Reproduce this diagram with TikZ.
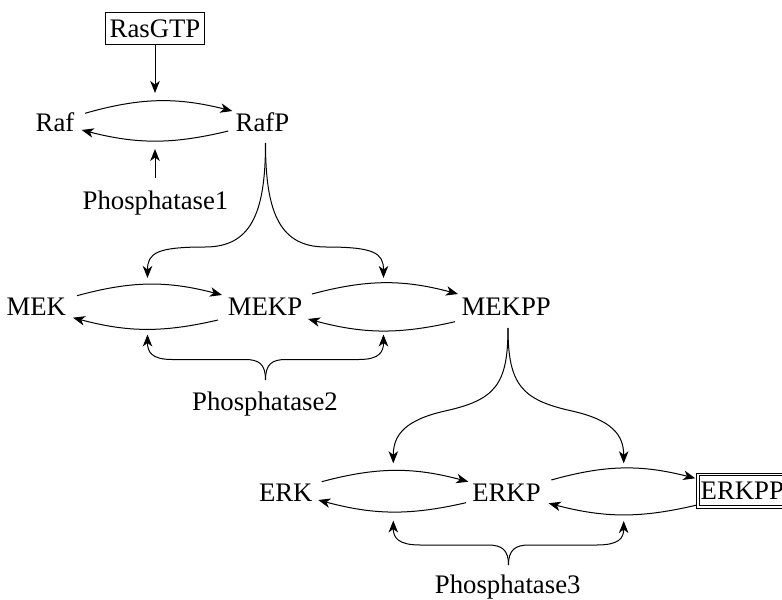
\documentclass[tikz,border=0pt]{standalone}
\usepackage{fontspec}
\setmainfont{Liberation Serif}
\usetikzlibrary{arrows.meta}
\begin{document}
\begin{tikzpicture}[x=0.4pt,y=-0.4pt,
  font=\fontsize{10.7}{13}\selectfont,
  line width=0.4pt,
  >={Stealth[length=4.8pt,width=3.8pt,inset=1.4pt]},
  lbl/.style={inner sep=0pt,text height=7.1pt,text depth=0pt},
  boxed/.style={lbl,draw,minimum width=39.6pt,minimum height=12.8pt},
  dboxed/.style={lbl,draw,double,double distance=0.6pt,minimum width=35.3pt,minimum height=13pt}]
\useasboundingbox (0,0) rectangle (782,600);
% nodes
\node[boxed] (RasGTP) at (155,28.5) {RasGTP};
\node[lbl] (Raf) at (55,122.8) {Raf};
\node[lbl] (RafP) at (262.5,122.8) {RafP};
\node[lbl] (Ph1) at (155.5,200.4) {Phosphatase1};
\node[lbl] (MEK) at (36.3,306.8) {MEK};
\node[lbl] (MEKP) at (265,306.8) {MEKP};
\node[lbl] (MEKPP) at (506.2,306.8) {MEKPP};
\node[lbl] (Ph2) at (265,402) {Phosphatase2};
\node[lbl] (ERK) at (285.8,492.3) {ERK};
\node[lbl] (ERKP) at (506.5,492.3) {ERKP};
\node[dboxed] (ERKPP) at (742.3,490.8) {ERKPP};
\node[lbl] (Ph3) at (507.7,585) {Phosphatase3};
% helper coordinates
\coordinate (tRas) at (155,93);
\coordinate (tPh1) at (155,149);
\coordinate (f1) at ([shift={(3,20.2)}]RafP.center);
\coordinate (f2) at ([shift={(1.8,21.2)}]MEKPP.center);
\coordinate (b2) at ([shift={(0.5,-22)}]Ph2.center);
\coordinate (b3) at ([shift={(0.8,-20)}]Ph3.center);
\coordinate (m1) at (147.5,278);
\coordinate (m2) at (383.5,278);
\coordinate (p2a) at (147.5,334.5);
\coordinate (p2b) at (383.5,334.5);
\coordinate (e1) at (393.3,463.3);
\coordinate (e2) at (623.7,463.3);
\coordinate (p3a) at (393.3,520.5);
\coordinate (p3b) at (623.7,521);
% Raf row
\draw[->] (RasGTP.south) -- (tRas);
\draw[->] ([shift={(-0.5,-22.4)}]Ph1.center) -- (tPh1);
\draw[->] ([shift={(30,-9.5)}]Raf.center) to[bend left=15] ([shift={(-30.2,-11.8)}]RafP.center);
\draw[->] ([shift={(-34.2,8.2)}]RafP.center) to[bend left=14] ([shift={(26.7,7.2)}]Raf.center);
% fork RafP
\draw[->] (f1) .. controls +(0,72) and +(45,0) .. (205,247) .. controls +(-48,0) and +(0,-25) .. (m1);
\draw[->] (f1) .. controls +(0,72) and +(-45,0) .. (326,247) .. controls +(48,0) and +(0,-25) .. (m2);
% MEK row
\draw[->] ([shift={(40.7,-11.1)}]MEK.center) to[bend left=15] ([shift={(-43,-11.8)}]MEKP.center);
\draw[->] ([shift={(-47,13.2)}]MEKP.center) to[bend left=14] ([shift={(36.7,10.9)}]MEK.center);
\draw[->] ([shift={(47,-12.8)}]MEKP.center) to[bend left=15] ([shift={(-48.2,-12.8)}]MEKPP.center);
\draw[->] ([shift={(-51.2,14.9)}]MEKPP.center) to[bend left=14] ([shift={(43,12.2)}]MEKP.center);
% brace Phosphatase2
\draw[->] (b2) .. controls +(0,-16) and +(14,0) .. (245,359.5) -- (172,359.5) .. controls +(-21,0) and +(0,17) .. (p2a);
\draw[->] (b2) .. controls +(0,-16) and +(-14,0) .. (286,359.5) -- (359,359.5) .. controls +(21,0) and +(0,17) .. (p2b);
% fork MEKPP
\draw[->] (f2) .. controls +(0,57) and +(50,-11) .. (445,411) .. controls +(-40,9) and +(0,-28.3) .. (e1);
\draw[->] (f2) .. controls +(0,57) and +(-50,-11) .. (572,411) .. controls +(40,9) and +(0,-28.3) .. (e2);
% ERK row
\draw[->] ([shift={(35.9,-10.6)}]ERK.center) to[bend left=15] ([shift={(-38.2,-10.6)}]ERKP.center);
\draw[->] ([shift={(-40.5,10.4)}]ERKP.center) to[bend left=14] ([shift={(32.5,7.7)}]ERK.center);
\draw[->] ([shift={(44.8,-12.3)}]ERKP.center) to[bend left=15] ([shift={(-47,-12.5)}]ERKPP.center);
\draw[->] ([shift={(-45.3,14.2)}]ERKPP.center) to[bend left=14] ([shift={(42.2,11)}]ERKP.center);
% brace Phosphatase3
\draw[->] (b3) .. controls +(0,-15) and +(14,0) .. (488,545) -- (420,545) .. controls +(-22,0) and +(0,17) .. (p3a);
\draw[->] (b3) .. controls +(0,-15) and +(-14,0) .. (529,545) -- (597,545) .. controls +(22,0) and +(0,17) .. (p3b);
\end{tikzpicture}
\end{document}
